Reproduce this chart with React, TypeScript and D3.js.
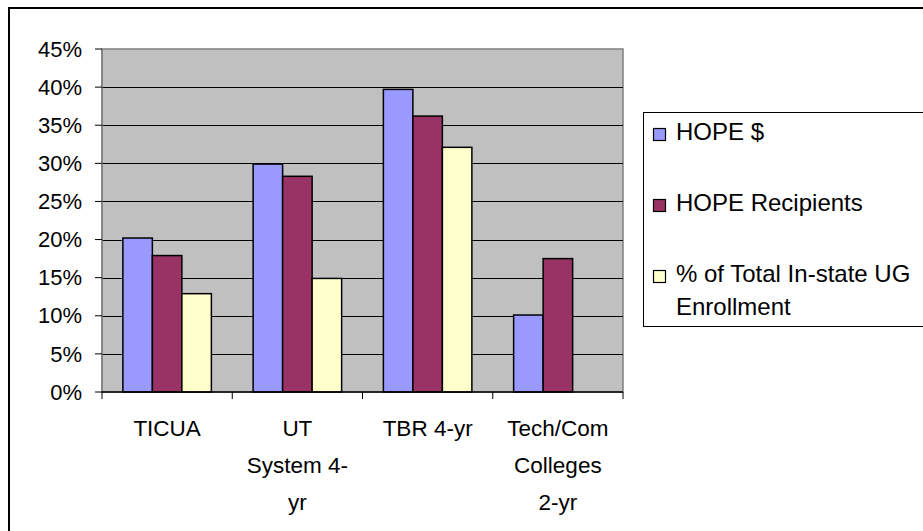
import React from 'react';
import * as d3 from 'd3';

const categories = ['TICUA', 'UT System 4-yr', 'TBR 4-yr', 'Tech/Com Colleges 2-yr'];
const categoryLines = [['TICUA'], ['UT', 'System 4-', 'yr'], ['TBR 4-yr'], ['Tech/Com', 'Colleges', '2-yr']];
const seriesNames = ['HOPE $', 'HOPE Recipients', '% of Total In-state UG Enrollment'];
const legendLines = [['HOPE $'], ['HOPE Recipients'], ['% of Total In-state UG', 'Enrollment']];
const hopeDollars = [20.2, 29.9, 39.7, 10.1];
const hopeRecipients = [17.9, 28.3, 36.2, 17.5];
const enrollment = [12.9, 14.9, 32.1, null];
const yTicks = [0, 5, 10, 15, 20, 25, 30, 35, 40, 45];
const colors = ['#9999FF', '#993366', '#FFFFCC'];

const font = '"Liberation Sans", Arial, sans-serif';

export default function App() {
  const width = 923;
  const height = 531;
  const plot = { left: 102, right: 623, top: 49, bottom: 392 };

  const x0 = d3.scaleBand().domain(categories).range([plot.left, plot.right]).paddingInner(0).paddingOuter(0);
  const bw = x0.bandwidth();
  const gap = bw - 3 * 29.5;
  const x1 = d3.scaleBand().domain(seriesNames).range([gap / 2, bw - gap / 2]).padding(0);
  const y = d3.scaleLinear().domain([0, 45]).range([plot.bottom, plot.top]);

  const series = [hopeDollars, hopeRecipients, enrollment];
  const legendY = [132, 203, 274];

  return (
    <svg width={width} height={height} style={{ position: 'absolute', left: 0, top: 0 }}>
      <rect x={0} y={0} width={width} height={height} fill="#fff" />
      {/* outer chart frame (runs off the right and bottom) */}
      <rect x={9} y={8} width={width + 20} height={height + 20} fill="none" stroke="#000" strokeWidth={2} />

      {/* plot area */}
      <rect x={plot.left} y={plot.top} width={plot.right - plot.left} height={plot.bottom - plot.top} fill="#C0C0C0" stroke="#808080" strokeWidth={1.5} />
      {yTicks.filter((t) => t > 0 && t < 45).map((t) => (
        <line key={t} x1={plot.left} x2={plot.right} y1={Math.round(y(t)) + 0.5} y2={Math.round(y(t)) + 0.5} stroke="#000" strokeWidth={1} />
      ))}

      {/* bars */}
      {series.map((vals, si) =>
        vals.map((v, ci) =>
          v == null ? null : (
            <rect
              key={`${si}-${ci}`}
              x={(x0(categories[ci]) as number) + (x1(seriesNames[si]) as number)}
              y={y(v)}
              width={x1.bandwidth()}
              height={y(0) - y(v)}
              fill={colors[si]}
              stroke="#000"
              strokeWidth={1.5}
            />
          )
        )
      )}

      {/* y axis */}
      <line x1={plot.left} x2={plot.left} y1={plot.top} y2={plot.bottom} stroke="#808080" strokeWidth={1.5} />
      {yTicks.map((t) => (
        <g key={t}>
          <line x1={plot.left - 7} x2={plot.left} y1={y(t)} y2={y(t)} stroke="#000" strokeWidth={1} />
          <text x={82} y={y(t)} dy="0.35em" textAnchor="end" fontFamily={font} fontSize={22} fill="#000">
            {t}%
          </text>
        </g>
      ))}

      {/* x axis */}
      <line x1={plot.left} x2={plot.right} y1={plot.bottom} y2={plot.bottom} stroke="#000" strokeWidth={1.5} />
      {[...categories.map((c) => x0(c) as number), plot.right].map((xv, i) => (
        <line key={i} x1={xv} x2={xv} y1={plot.bottom} y2={plot.bottom + 7} stroke="#000" strokeWidth={1} />
      ))}
      {categories.map((c, i) => (
        <text key={c} textAnchor="middle" fontFamily={font} fontSize={22.5} fill="#000">
          {categoryLines[i].map((ln, li) => (
            <tspan key={li} x={(x0(c) as number) + bw / 2} y={428 + li * 37} dy="0.35em">
              {ln}
            </tspan>
          ))}
        </text>
      ))}

      {/* legend */}
      <rect x={643.5} y={112.5} width={300} height={214} fill="#fff" stroke="#000" strokeWidth={1} />
      {legendLines.map((lines, i) => (
        <g key={i}>
          <rect x={653.5} y={legendY[i] - 3.5} width={12} height={12} fill={colors[i]} stroke="#000" strokeWidth={1.2} />
          <text fontFamily={font} fontSize={24} fill="#000">
            {lines.map((ln, li) => (
              <tspan key={li} x={676} y={legendY[i] + li * 33} dy="0.35em">
                {ln}
              </tspan>
            ))}
          </text>
        </g>
      ))}
    </svg>
  );
}
